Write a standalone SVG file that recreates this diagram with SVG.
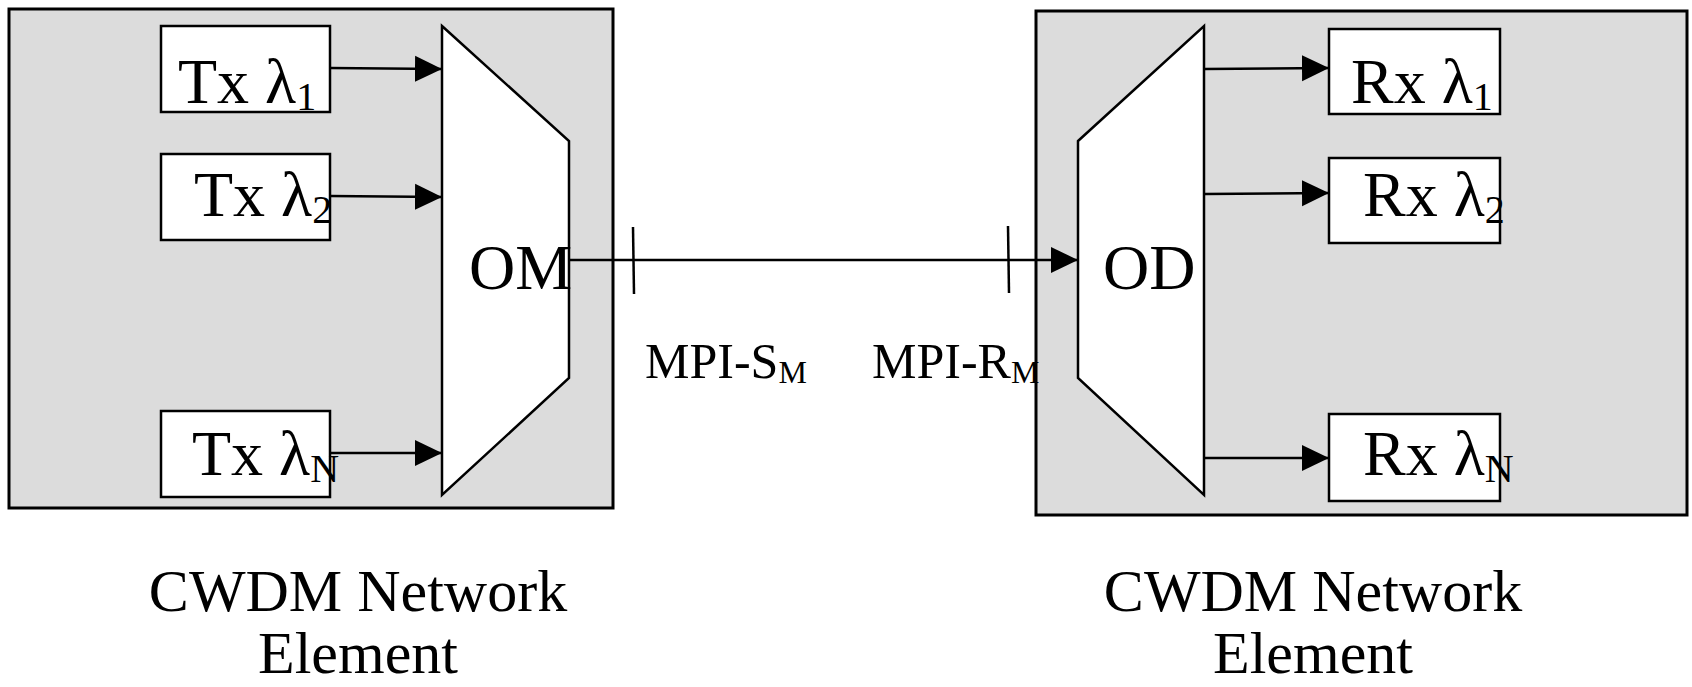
<svg xmlns="http://www.w3.org/2000/svg" width="1692" height="687" viewBox="0 0 1692 687">
<style>
.ne{fill:#dcdcdc;stroke:#000;stroke-width:3}
.box{fill:#fff;stroke:#000;stroke-width:2.5}
.mux{fill:#fff;stroke:#000;stroke-width:2.5}
.ln{stroke:#000;stroke-width:2.5;fill:none}
.t{font-family:"Liberation Serif","Times New Roman",serif;fill:#000}
.lab{font-size:64px}
.sub{font-size:40px}
.big{font-size:60px}
.mpi{font-size:50px}
.msub{font-size:32px}
</style>
<defs>
<marker id="ah" markerUnits="userSpaceOnUse" markerWidth="28" markerHeight="28" viewBox="0 0 28 28" refX="27" refY="14" orient="auto">
<path d="M0,1 L27,14 L0,27 Z" fill="#000"/>
</marker>
</defs>
<g id="ne-left"><rect class="ne" x="9" y="9" width="604" height="499"/></g>
<g id="ne-right"><rect class="ne" x="1036" y="11" width="651" height="504"/></g>
<g id="tx1"><rect class="box" x="161" y="26" width="169" height="86"/><text class="t lab" x="178" y="103">Tx λ<tspan class="sub" dy="7">1</tspan></text></g>
<g id="tx2"><rect class="box" x="161" y="154" width="169" height="86"/><text class="t lab" x="194" y="216">Tx λ<tspan class="sub" dy="7">2</tspan></text></g>
<g id="txN"><rect class="box" x="161" y="411" width="169" height="86"/><text class="t lab" x="192" y="475">Tx λ<tspan class="sub" dy="7">N</tspan></text></g>
<g id="om"><polygon class="mux" points="442,26 569,141 569,378 442,495"/><text class="t lab" x="469" y="289">OM</text></g>
<g id="od"><polygon class="mux" points="1078,141 1204,26 1204,495 1078,378"/><text class="t lab" x="1103" y="289">OD</text></g>
<g id="rx1"><rect class="box" x="1329" y="29" width="171" height="85"/><text class="t lab" x="1351" y="103">Rx λ<tspan class="sub" dy="7">1</tspan></text></g>
<g id="rx2"><rect class="box" x="1329" y="158" width="171" height="85"/><text class="t lab" x="1363" y="216">Rx λ<tspan class="sub" dy="7">2</tspan></text></g>
<g id="rxN"><rect class="box" x="1329" y="414" width="171" height="87"/><text class="t lab" x="1363" y="475">Rx λ<tspan class="sub" dy="7">N</tspan></text></g>
<g id="connectors">
<line class="ln" x1="330" y1="68" x2="442" y2="69" marker-end="url(#ah)"/>
<line class="ln" x1="330" y1="196" x2="442" y2="197" marker-end="url(#ah)"/>
<line class="ln" x1="330" y1="453" x2="442" y2="453" marker-end="url(#ah)"/>
<line class="ln" x1="569" y1="260" x2="1078" y2="260" marker-end="url(#ah)"/>
<line class="ln" x1="1204" y1="69" x2="1329" y2="68" marker-end="url(#ah)"/>
<line class="ln" x1="1205" y1="194" x2="1329" y2="193" marker-end="url(#ah)"/>
<line class="ln" x1="1204" y1="458" x2="1329" y2="458" marker-end="url(#ah)"/>
<line class="ln" x1="633" y1="227" x2="634" y2="294"/>
<line class="ln" x1="1008" y1="226" x2="1009" y2="293"/>
</g>
<g id="labels">
<text class="t mpi" x="645" y="378">MPI-S<tspan class="msub" dy="5">M</tspan></text>
<text class="t mpi" x="872" y="378">MPI-R<tspan class="msub" dy="5">M</tspan></text>
<text class="t big" x="358" y="611" text-anchor="middle">CWDM Network</text>
<text class="t big" x="358" y="673" text-anchor="middle">Element</text>
<text class="t big" x="1313" y="611" text-anchor="middle">CWDM Network</text>
<text class="t big" x="1313" y="673" text-anchor="middle">Element</text>
</g>
</svg>
